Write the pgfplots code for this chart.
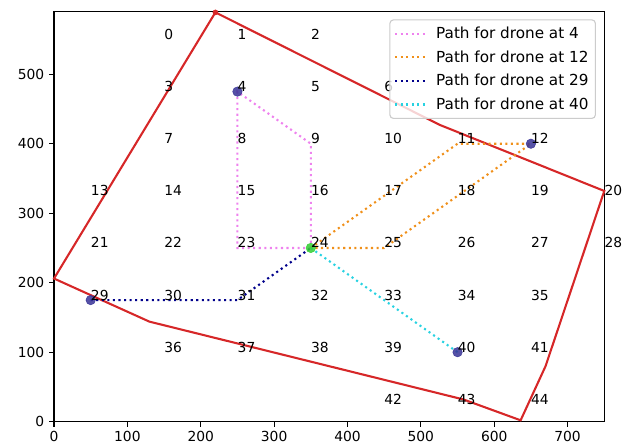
\documentclass[border=0pt]{standalone}
\usepackage{pgfplots}
\pgfplotsset{compat=1.18}
\usepackage{fontspec}
\setmainfont{DejaVu Sans}

\definecolor{polyred}{HTML}{D62728}
\definecolor{pviolet}{HTML}{EE82EE}
\definecolor{porange}{HTML}{F0901A}
\definecolor{pblue}{HTML}{00008B}
\definecolor{pcyan}{RGB}{40,210,225}
\definecolor{dronec}{RGB}{55,50,150}
\definecolor{basec}{RGB}{50,205,50}
\definecolor{legframe}{RGB}{204,204,204}

\pgfplotstableread{
x y label
150 550 0
250 550 1
350 550 2
150 475 3
250 475 4
350 475 5
450 475 6
150 400 7
250 400 8
350 400 9
450 400 10
550 400 11
650 400 12
50 325 13
150 325 14
250 325 15
350 325 16
450 325 17
550 325 18
650 325 19
750 325 20
50 250 21
150 250 22
250 250 23
350 250 24
450 250 25
550 250 26
650 250 27
750 250 28
50 175 29
150 175 30
250 175 31
350 175 32
450 175 33
550 175 34
650 175 35
150 100 36
250 100 37
350 100 38
450 100 39
550 100 40
650 100 41
450 25 42
550 25 43
650 25 44
}\celltable

\begin{document}
\begin{tikzpicture}
\path[use as bounding box] (-38.88bp,-16.06bp) rectangle (415.44bp,303.62bp);
\begin{axis}[
  at={(0,0)}, anchor=south west,
  scale only axis, width=396.2bp, height=295.2bp,
  xmin=0, xmax=750, ymin=0, ymax=590,
  clip=false,
  axis line style={line width=0.8bp},
  tick align=outside, major tick length=3.5bp,
  every tick/.style={line width=0.8bp, black},
  tick pos=left,
  xtick={0,100,...,700}, ytick={0,100,...,500},
  ticklabel style={font=\fontsize{10}{12}\selectfont},
  /pgf/number format/assume math mode=true,
  legend style={at={(1,1)}, anchor=north east, xshift=-6bp, yshift=-5.5bp,
    draw=legframe, line width=0.8bp, rounded corners=2.5bp,
    fill=white, fill opacity=0.8, text opacity=1, draw opacity=1,
    font=\fontsize{11}{13}\selectfont, inner xsep=3bp, inner ysep=3bp,
    row sep=3bp, column sep=4.8bp,
    cells={anchor=west, text height=8.5bp, text depth=2.5bp,
      inner xsep=2bp, inner ysep=1bp}},
  legend image code/.code={\draw[#1] (0bp,0bp) -- (22bp,0bp);},
  legend cell align=left,
]
% coverage polygon
\addplot[polyred, line width=1.5bp, forget plot] coordinates {
  (220,589) (526,427) (750,332) (670,80) (636,2) (558,32) (130,144) (0,206) (220,589)};
\addplot[only marks, mark=*, mark size=1.8bp, polyred, forget plot] coordinates {(220,589)};

% drone paths
\addplot[pviolet, line width=1.5bp, dash pattern=on 1.5bp off 2.5bp] coordinates {
  (350,250) (250,250) (250,325) (250,400) (250,475) (350,400) (350,325) (350,250)};
\addlegendentry{Path for drone at 4}
\addplot[porange, line width=1.5bp, dash pattern=on 1.5bp off 2.5bp] coordinates {
  (350,250) (450,325) (550,400) (650,400) (550,325) (450,250) (350,250)};
\addlegendentry{Path for drone at 12}
\addplot[pblue, line width=1.5bp, dash pattern=on 1.5bp off 2.5bp] coordinates {
  (50,175) (150,175) (250,175) (350,250)};
\addlegendentry{Path for drone at 29}
\addplot[pcyan, line width=1.5bp, dash pattern=on 1.5bp off 2.5bp] coordinates {
  (550,100) (450,175) (350,250)};
\addlegendentry{Path for drone at 40}

% drones and base
\addplot[only marks, mark=*, mark size=3.4bp, forget plot,
  mark options={fill=dronec, draw=dronec, fill opacity=0.85, draw opacity=0.85}]
  coordinates {(250,475) (650,400) (50,175) (550,100)};
\addplot[only marks, mark=*, mark size=3.4bp, forget plot,
  mark options={fill=basec, draw=basec, fill opacity=0.85, draw opacity=0.85}]
  coordinates {(350,250)};

% cell numbers
\addplot[draw=none, forget plot, point meta=explicit symbolic,
  nodes near coords=\pgfplotspointmeta,
  every node near coord/.style={anchor=base west, inner sep=0pt,
    font=\fontsize{10}{12}\selectfont, text=black}]
  table[x=x, y=y, meta=label] {\celltable};
\end{axis}
\end{tikzpicture}
\end{document}
